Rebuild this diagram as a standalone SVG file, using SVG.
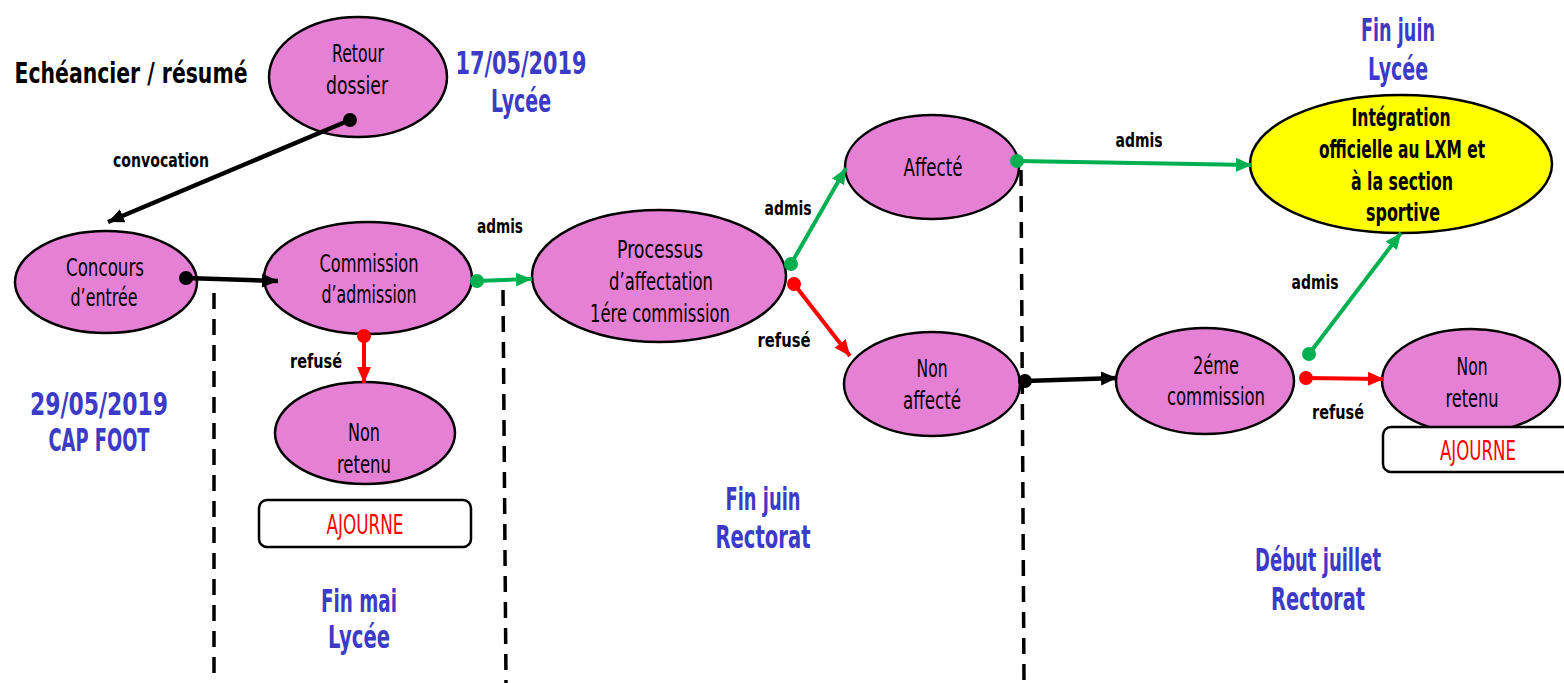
<svg xmlns="http://www.w3.org/2000/svg" width="1564" height="683" viewBox="0 0 1564 683">
<style>
text{font-family:"DejaVu Sans Condensed","DejaVu Sans","Liberation Sans",sans-serif;text-anchor:middle}
.n{fill:#E680D4;stroke:#000;stroke-width:2.5}
.y{fill:#FFFF00;stroke:#000;stroke-width:2.5}
.t{font-size:24px;fill:#000}
.tb{font-size:24px;font-weight:bold;fill:#000}
.lb{font-size:19px;font-weight:bold;fill:#000}
.bl{font-size:32px;font-weight:bold;fill:#3B3BC8}
.aj{font-size:26px;fill:#FF0000}
.box{fill:#fff;stroke:#000;stroke-width:2.5}
.k{stroke:#000;stroke-width:4.5;fill:none}
.g{stroke:#00B050;stroke-width:4;fill:none}
.r{stroke:#FF0000;stroke-width:4;fill:none}
.d{stroke:#000;stroke-width:3.5;stroke-dasharray:16 10;fill:none}
</style>
<defs>
<marker id="ak" markerUnits="userSpaceOnUse" markerWidth="20" markerHeight="20" refX="16" refY="7" orient="auto"><path d="M0,0 L16,7 L0,14 Z" fill="#000"/></marker>
<marker id="ag" markerUnits="userSpaceOnUse" markerWidth="20" markerHeight="20" refX="16" refY="7" orient="auto"><path d="M0,0 L16,7 L0,14 Z" fill="#00B050"/></marker>
<marker id="ar" markerUnits="userSpaceOnUse" markerWidth="20" markerHeight="20" refX="16" refY="7" orient="auto"><path d="M0,0 L16,7 L0,14 Z" fill="#FF0000"/></marker>
</defs>
<rect width="1564" height="683" fill="#fff"/>

<g id="labels">
<text x="131" y="83" style="font-size:28px;font-weight:bold" textLength="233" lengthAdjust="spacingAndGlyphs">Echéancier / résumé</text>
<text class="bl" x="521" y="74" textLength="131" lengthAdjust="spacingAndGlyphs">17/05/2019</text>
<text class="bl" x="521" y="112" textLength="60" lengthAdjust="spacingAndGlyphs">Lycée</text>
<text class="bl" x="99" y="415" textLength="138" lengthAdjust="spacingAndGlyphs">29/05/2019</text>
<text class="bl" x="99" y="451" textLength="101" lengthAdjust="spacingAndGlyphs">CAP FOOT</text>
<text class="bl" x="359" y="612" textLength="76" lengthAdjust="spacingAndGlyphs">Fin mai</text>
<text class="bl" x="359" y="648" textLength="62" lengthAdjust="spacingAndGlyphs">Lycée</text>
<text class="bl" x="763" y="510" textLength="75" lengthAdjust="spacingAndGlyphs">Fin juin</text>
<text class="bl" x="763" y="548" textLength="95" lengthAdjust="spacingAndGlyphs">Rectorat</text>
<text class="bl" x="1318" y="571" textLength="126" lengthAdjust="spacingAndGlyphs">Début juillet</text>
<text class="bl" x="1318" y="610" textLength="94" lengthAdjust="spacingAndGlyphs">Rectorat</text>
<text class="bl" x="1398" y="41" textLength="74" lengthAdjust="spacingAndGlyphs">Fin juin</text>
<text class="bl" x="1398" y="80" textLength="60" lengthAdjust="spacingAndGlyphs">Lycée</text>
</g>

<g id="dashes">
<line class="d" x1="214" y1="293" x2="214" y2="683"/>
<line class="d" x1="503" y1="290" x2="506" y2="683"/>
<line class="d" x1="1021" y1="170" x2="1024" y2="683"/>
</g>

<g id="retour">
<ellipse class="n" cx="358" cy="77" rx="89" ry="60"/>
<text class="t" x="358" y="62" textLength="52" lengthAdjust="spacingAndGlyphs">Retour</text>
<text class="t" x="357" y="94" textLength="62" lengthAdjust="spacingAndGlyphs">dossier</text>
</g>
<g id="concours">
<ellipse class="n" cx="106" cy="282" rx="91" ry="51"/>
<text class="t" x="105" y="276" textLength="78" lengthAdjust="spacingAndGlyphs">Concours</text>
<text class="t" x="104" y="306" textLength="67" lengthAdjust="spacingAndGlyphs">d’entrée</text>
</g>
<g id="commission">
<ellipse class="n" cx="368" cy="278" rx="104" ry="56"/>
<text class="t" x="369" y="272" textLength="99" lengthAdjust="spacingAndGlyphs">Commission</text>
<text class="t" x="369" y="303" textLength="95" lengthAdjust="spacingAndGlyphs">d’admission</text>
</g>
<g id="nonretenu1">
<ellipse class="n" cx="365" cy="433" rx="90" ry="51"/>
<text class="t" x="364" y="441" textLength="32" lengthAdjust="spacingAndGlyphs">Non</text>
<text class="t" x="364" y="473" textLength="54" lengthAdjust="spacingAndGlyphs">retenu</text>
</g>
<g id="ajourne1">
<rect class="box" x="259" y="500" width="212" height="47" rx="8"/>
<text class="aj" x="365" y="534" textLength="77" lengthAdjust="spacingAndGlyphs">AJOURNE</text>
</g>
<g id="processus">
<ellipse class="n" cx="659" cy="276" rx="127" ry="66"/>
<text class="t" x="660" y="258" textLength="86" lengthAdjust="spacingAndGlyphs">Processus</text>
<text class="t" x="661" y="290" textLength="104" lengthAdjust="spacingAndGlyphs">d’affectation</text>
<text class="t" x="660" y="322" textLength="140" lengthAdjust="spacingAndGlyphs">1ére commission</text>
</g>
<g id="affecte">
<ellipse class="n" cx="932" cy="167" rx="87" ry="52"/>
<text class="t" x="933" y="176" textLength="59" lengthAdjust="spacingAndGlyphs">Affecté</text>
</g>
<g id="nonaffecte">
<ellipse class="n" cx="932" cy="384" rx="88" ry="52"/>
<text class="t" x="932" y="377" textLength="31" lengthAdjust="spacingAndGlyphs">Non</text>
<text class="t" x="932" y="409" textLength="58" lengthAdjust="spacingAndGlyphs">affecté</text>
</g>
<g id="deuxieme">
<ellipse class="n" cx="1205" cy="381" rx="89" ry="53"/>
<text class="t" x="1216" y="374" textLength="46" lengthAdjust="spacingAndGlyphs">2éme</text>
<text class="t" x="1216" y="405" textLength="98" lengthAdjust="spacingAndGlyphs">commission</text>
</g>
<g id="integration">
<ellipse class="y" cx="1401" cy="164" rx="151" ry="69"/>
<text class="tb" x="1401" y="126" textLength="99" lengthAdjust="spacingAndGlyphs">Intégration</text>
<text class="tb" x="1402" y="158" textLength="166" lengthAdjust="spacingAndGlyphs">officielle au LXM et</text>
<text class="tb" x="1402" y="190" textLength="102" lengthAdjust="spacingAndGlyphs">à la section</text>
<text class="tb" x="1403" y="221" textLength="74" lengthAdjust="spacingAndGlyphs">sportive</text>
</g>
<g id="nonretenu2">
<ellipse class="n" cx="1471" cy="381" rx="89" ry="52"/>
<text class="t" x="1472" y="375" textLength="31" lengthAdjust="spacingAndGlyphs">Non</text>
<text class="t" x="1472" y="407" textLength="53" lengthAdjust="spacingAndGlyphs">retenu</text>
</g>
<g id="ajourne2">
<rect class="box" x="1383" y="427" width="200" height="45" rx="8"/>
<text class="aj" x="1478" y="460" textLength="76" lengthAdjust="spacingAndGlyphs">AJOURNE</text>
</g>

<g id="connectors">
<line class="k" x1="350" y1="120" x2="108" y2="222" marker-end="url(#ak)"/>
<circle cx="350" cy="120" r="7" fill="#000"/>
<text class="lb" x="161" y="167" textLength="96" lengthAdjust="spacingAndGlyphs">convocation</text>
<line class="k" x1="186" y1="278" x2="278" y2="281" marker-end="url(#ak)"/>
<circle cx="186" cy="278" r="7" fill="#000"/>
<line class="g" x1="477" y1="281" x2="532" y2="279" marker-end="url(#ag)"/>
<circle cx="477" cy="281" r="7" fill="#00B050"/>
<text class="lb" x="500" y="233" textLength="46" lengthAdjust="spacingAndGlyphs">admis</text>
<line class="r" x1="364" y1="336" x2="364" y2="383" marker-end="url(#ar)"/>
<circle cx="364" cy="336" r="7" fill="#FF0000"/>
<text class="lb" x="316" y="368" textLength="52" lengthAdjust="spacingAndGlyphs">refusé</text>
<line class="g" x1="791" y1="264" x2="846" y2="168" marker-end="url(#ag)"/>
<circle cx="791" cy="264" r="7" fill="#00B050"/>
<text class="lb" x="788" y="215" textLength="47" lengthAdjust="spacingAndGlyphs">admis</text>
<line class="r" x1="794" y1="284" x2="850" y2="356" marker-end="url(#ar)"/>
<circle cx="794" cy="284" r="7" fill="#FF0000"/>
<text class="lb" x="784" y="347" textLength="53" lengthAdjust="spacingAndGlyphs">refusé</text>
<line class="g" x1="1017" y1="161" x2="1252" y2="165" marker-end="url(#ag)"/>
<circle cx="1017" cy="161" r="7" fill="#00B050"/>
<text class="lb" x="1139" y="147" textLength="47" lengthAdjust="spacingAndGlyphs">admis</text>
<line class="k" x1="1025" y1="381" x2="1117" y2="378" marker-end="url(#ak)"/>
<circle cx="1025" cy="381" r="7" fill="#000"/>
<line class="g" x1="1309" y1="354" x2="1401" y2="233" marker-end="url(#ag)"/>
<circle cx="1309" cy="354" r="7" fill="#00B050"/>
<text class="lb" x="1315" y="289" textLength="47" lengthAdjust="spacingAndGlyphs">admis</text>
<line class="r" x1="1306" y1="378" x2="1384" y2="379" marker-end="url(#ar)"/>
<circle cx="1306" cy="378" r="7" fill="#FF0000"/>
<text class="lb" x="1338" y="419" textLength="52" lengthAdjust="spacingAndGlyphs">refusé</text>
</g>
</svg>
